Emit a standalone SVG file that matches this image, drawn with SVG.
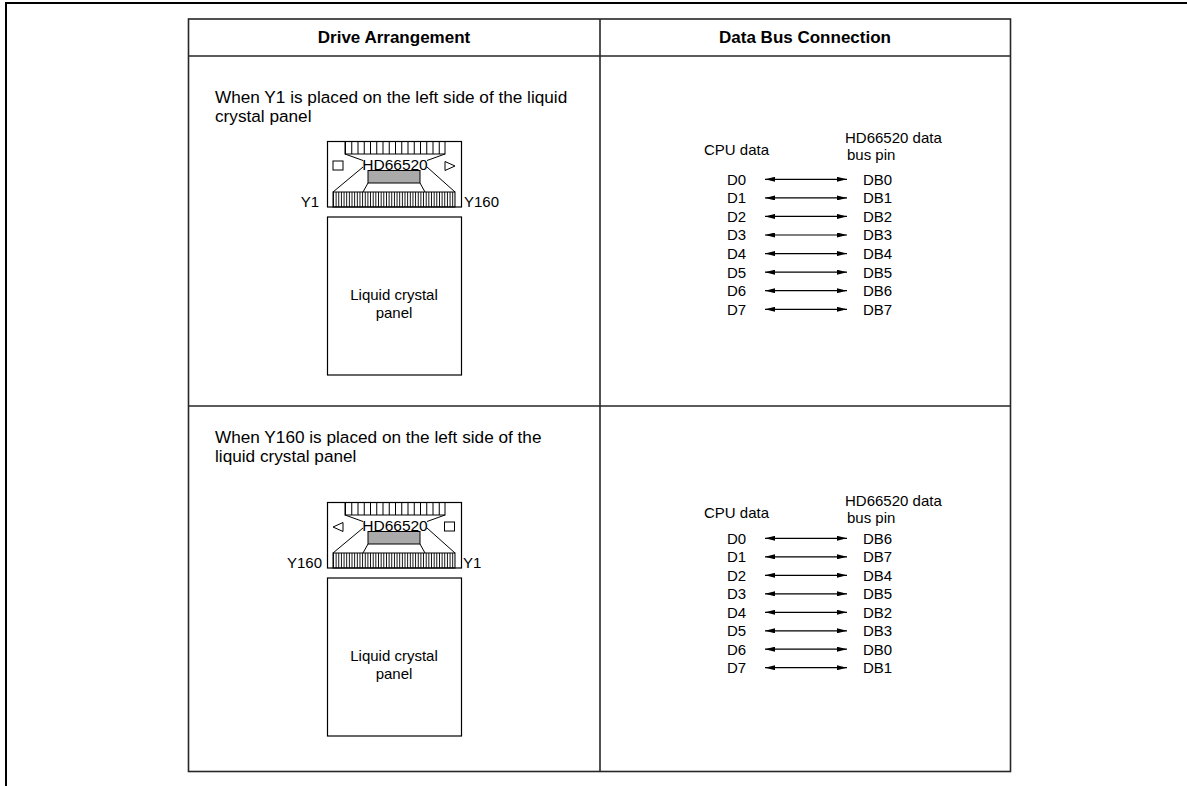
<svg xmlns="http://www.w3.org/2000/svg" width="1187" height="786" viewBox="0 0 1187 786">
<style>
text{font-family:"Liberation Sans",Arial,sans-serif;fill:#000}
.hd{font-weight:bold;font-size:17px;text-anchor:middle}
.body{font-size:17.2px}
.lbl{font-size:15px}
.chipname{font-size:15.5px;text-anchor:middle}
.mid{text-anchor:middle}
.end{text-anchor:end}
.grid{stroke:#262626;stroke-width:1.6;fill:none}
.ln{stroke:#000;stroke-width:1;fill:none}
.box{stroke:#000;stroke-width:1.2;fill:#fff}
.arrow{stroke:#000;stroke-width:1.2;marker-start:url(#ah);marker-end:url(#ah)}
</style>
<defs>
<marker id="ah" viewBox="0 0 10 5" refX="10" refY="2.5" markerWidth="10" markerHeight="5" markerUnits="userSpaceOnUse" orient="auto-start-reverse"><path d="M0,0 L10,2.5 L0,5 z" fill="#000"/></marker>
<g id="chipbody">
<rect class="box" x="327.5" y="141.5" width="134" height="65.5"/>
<rect class="ln" x="345" y="141.5" width="100" height="12.5"/>
<line x1="345" y1="147.75" x2="445" y2="147.75" stroke="#000" stroke-width="12.5" stroke-dasharray="1 5.25"/>
<path class="ln" d="M345,154 L363,160.5 M445,154 L427,160.5 M363,167 L333,192 M427,167 L455,192 M368,183 L363,192 M420,183 L425,192"/>
<rect x="368" y="170.5" width="52" height="12.5" fill="#aaa" stroke="#000" stroke-width="1"/>
<rect class="ln" x="333" y="192" width="122" height="15"/>
<line x1="333" y1="199.5" x2="455" y2="199.5" stroke="#000" stroke-width="15" stroke-dasharray="0.9 1.75"/>
<text class="chipname" x="395" y="169.5">HD66520</text>
</g>
</defs>

<g id="page-border"><path d="M6,786 V3 H1187" fill="none" stroke="#000" stroke-width="2"/></g>

<g id="table">
<rect class="grid" x="188.5" y="19" width="822" height="752.5"/>
<line class="grid" x1="188.5" y1="56" x2="1010.5" y2="56"/>
<line class="grid" x1="188.5" y1="406" x2="1010.5" y2="406"/>
<line class="grid" x1="600" y1="19" x2="600" y2="771.5"/>
<text class="hd" x="394" y="43">Drive Arrangement</text>
<text class="hd" x="805" y="43">Data Bus Connection</text>
</g>

<g id="case1-desc">
<text class="body" x="215" y="103">When Y1 is placed on the left side of the liquid</text>
<text class="body" x="215" y="122">crystal panel</text>
</g>

<g id="chip1">
<use href="#chipbody"/>
<rect class="ln" x="333" y="161" width="10" height="9"/>
<path class="ln" d="M445,161.5 L455,166 L445,170.5 z"/>
<text class="lbl end" x="319" y="207">Y1</text>
<text class="lbl" x="464" y="207">Y160</text>
</g>

<g id="panel1">
<rect class="box" x="327.5" y="217" width="134" height="158"/>
<text class="lbl mid" x="394" y="300">Liquid crystal</text>
<text class="lbl mid" x="394" y="318">panel</text>
</g>

<g id="case2-desc">
<text class="body" x="215" y="443">When Y160 is placed on the left side of the</text>
<text class="body" x="215" y="462">liquid crystal panel</text>
</g>

<g id="chip2">
<use href="#chipbody" y="361"/>
<path class="ln" d="M343,522.5 L333,527 L343,531.5 z"/>
<rect class="ln" x="444.5" y="522" width="10" height="9"/>
<text class="lbl end" x="322" y="568">Y160</text>
<text class="lbl" x="463" y="568">Y1</text>
</g>

<g id="panel2">
<rect class="box" x="327.5" y="578" width="134" height="158"/>
<text class="lbl mid" x="394" y="661">Liquid crystal</text>
<text class="lbl mid" x="394" y="679">panel</text>
</g>

<g id="bus1-labels" class="lbl">
<text class="lbl" x="704" y="155">CPU data</text>
<text class="lbl" x="845" y="143">HD66520 data</text>
<text class="lbl" x="847" y="160">bus pin</text>
<text class="lbl" x="727" y="184.7">D0</text><text class="lbl" x="863" y="184.7">DB0</text>
<text class="lbl" x="727" y="203.3">D1</text><text class="lbl" x="863" y="203.3">DB1</text>
<text class="lbl" x="727" y="221.8">D2</text><text class="lbl" x="863" y="221.8">DB2</text>
<text class="lbl" x="727" y="240.4">D3</text><text class="lbl" x="863" y="240.4">DB3</text>
<text class="lbl" x="727" y="259">D4</text><text class="lbl" x="863" y="259">DB4</text>
<text class="lbl" x="727" y="277.6">D5</text><text class="lbl" x="863" y="277.6">DB5</text>
<text class="lbl" x="727" y="296.1">D6</text><text class="lbl" x="863" y="296.1">DB6</text>
<text class="lbl" x="727" y="314.7">D7</text><text class="lbl" x="863" y="314.7">DB7</text>
</g>

<g id="bus2-labels">
<text class="lbl" x="704" y="518">CPU data</text>
<text class="lbl" x="845" y="506">HD66520 data</text>
<text class="lbl" x="847" y="523">bus pin</text>
<text class="lbl" x="727" y="543.7">D0</text><text class="lbl" x="863" y="543.7">DB6</text>
<text class="lbl" x="727" y="562.2">D1</text><text class="lbl" x="863" y="562.2">DB7</text>
<text class="lbl" x="727" y="580.7">D2</text><text class="lbl" x="863" y="580.7">DB4</text>
<text class="lbl" x="727" y="599.2">D3</text><text class="lbl" x="863" y="599.2">DB5</text>
<text class="lbl" x="727" y="617.7">D4</text><text class="lbl" x="863" y="617.7">DB2</text>
<text class="lbl" x="727" y="636.2">D5</text><text class="lbl" x="863" y="636.2">DB3</text>
<text class="lbl" x="727" y="654.6">D6</text><text class="lbl" x="863" y="654.6">DB0</text>
<text class="lbl" x="727" y="673.1">D7</text><text class="lbl" x="863" y="673.1">DB1</text>
</g>

<g id="connectors">
<line class="arrow" x1="765" y1="179.3" x2="847" y2="179.3"/>
<line class="arrow" x1="765" y1="197.9" x2="847" y2="197.9"/>
<line class="arrow" x1="765" y1="216.4" x2="847" y2="216.4"/>
<line class="arrow" x1="765" y1="235" x2="847" y2="235"/>
<line class="arrow" x1="765" y1="253.6" x2="847" y2="253.6"/>
<line class="arrow" x1="765" y1="272.2" x2="847" y2="272.2"/>
<line class="arrow" x1="765" y1="290.7" x2="847" y2="290.7"/>
<line class="arrow" x1="765" y1="309.3" x2="847" y2="309.3"/>
<line class="arrow" x1="765" y1="538.3" x2="847" y2="538.3"/>
<line class="arrow" x1="765" y1="556.8" x2="847" y2="556.8"/>
<line class="arrow" x1="765" y1="575.3" x2="847" y2="575.3"/>
<line class="arrow" x1="765" y1="593.8" x2="847" y2="593.8"/>
<line class="arrow" x1="765" y1="612.3" x2="847" y2="612.3"/>
<line class="arrow" x1="765" y1="630.8" x2="847" y2="630.8"/>
<line class="arrow" x1="765" y1="649.2" x2="847" y2="649.2"/>
<line class="arrow" x1="765" y1="667.7" x2="847" y2="667.7"/>
</g>
</svg>
